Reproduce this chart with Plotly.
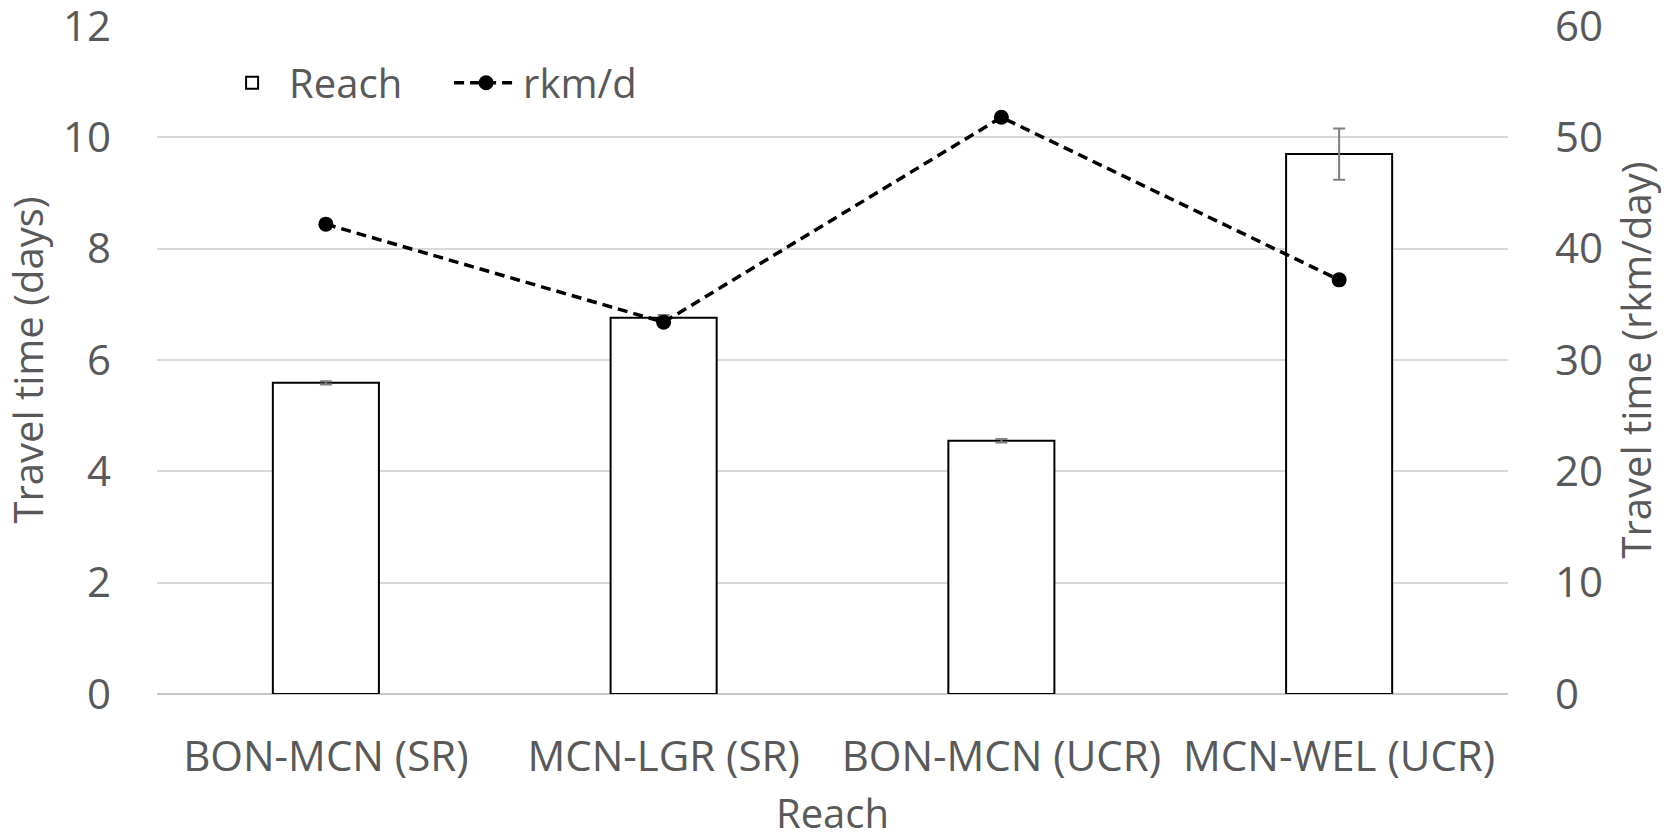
import plotly.graph_objects as go

reaches = ["BON-MCN (SR)", "MCN-LGR (SR)", "BON-MCN (UCR)", "MCN-WEL (UCR)"]
travel_days = [5.59, 6.76, 4.55, 9.70]
travel_err = [0.03, 0.05, 0.03, 0.46]
rkm_per_day = [42.2, 33.4, 51.8, 37.2]

FONT = "Open Sans"
GREY = "#595959"
TICK = 42
YTICK = 42
TITLE = 40

fig = go.Figure()
fig.add_trace(go.Bar(
    x=reaches, y=travel_days, name="Reach",
    width=0.314,
    marker=dict(color="white", line=dict(color="black", width=2)),
    error_y=dict(type="data", array=travel_err, visible=True,
                 color="#7f7f7f", thickness=2, width=6),
))
fig.add_trace(go.Scatter(
    x=reaches, y=rkm_per_day, name="rkm/d", yaxis="y2",
    mode="lines+markers",
    line=dict(color="black", width=3.5, dash="10px,6px"),
    marker=dict(color="black", size=15),
))

fig.update_layout(
    width=1677, height=840,
    paper_bgcolor="white", plot_bgcolor="white",
    margin=dict(l=157, r=169, t=26, b=146, autoexpand=False),
    font=dict(family=FONT, color=GREY, size=TICK),
    showlegend=True,
    legend=dict(orientation="h", x=0.043, y=0.915, xanchor="left", yanchor="middle",
                font=dict(size=TITLE, color=GREY), bgcolor="rgba(0,0,0,0)",
                itemwidth=64, entrywidth=155, tracegroupgap=0),
    xaxis=dict(
        automargin=False,
        showgrid=False, showline=False, zeroline=False,
        ticks="", ticklabelstandoff=34,
        tickfont=dict(size=TICK, color=GREY),
        title=dict(text="Reach", font=dict(size=TITLE, color=GREY), standoff=48),
    ),
    yaxis=dict(
        automargin=False, ticklabeloverflow="allow",
        range=[0, 12], dtick=2, showgrid=True, gridcolor="#d9d9d9", gridwidth=2,
        zeroline=True, zerolinecolor="#c8c8c8", zerolinewidth=2,
        showline=False, ticks="", ticklabelstandoff=45,
        tickfont=dict(size=YTICK, color=GREY),
        title=dict(text="Travel time (days)", font=dict(size=TITLE, color=GREY), standoff=12),
    ),
    yaxis2=dict(
        automargin=False, ticklabeloverflow="allow",
        range=[0, 60], dtick=10, overlaying="y", side="right",
        showgrid=False, zeroline=False, showline=False, ticks="",
        ticklabelstandoff=46,
        tickfont=dict(size=YTICK, color=GREY),
        title=dict(text="Travel time (rkm/day)", font=dict(size=TITLE, color=GREY), standoff=20),
    ),
)

fig.write_html("out.html", config={"displayModeBar": False},
               post_script="document.body.style.margin='0';")
